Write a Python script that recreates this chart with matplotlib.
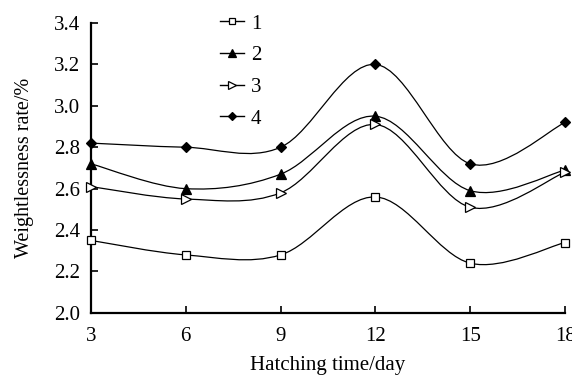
import numpy as np
import matplotlib
matplotlib.use('Agg')
import matplotlib.pyplot as plt
from matplotlib.path import Path
from matplotlib.patches import PathPatch

plt.rcParams['font.family'] = ['Liberation Serif', 'DejaVu Serif']

# hatching time (day)
days = [3, 6, 9, 12, 15, 18]
# weightlessness rate per group
s1 = [2.35, 2.28, 2.28, 2.56, 2.24, 2.34]
s2 = [2.72, 2.60, 2.67, 2.95, 2.59, 2.69]
s3 = [2.61, 2.55, 2.58, 2.91, 2.51, 2.68]
s4 = [2.82, 2.80, 2.80, 3.20, 2.72, 2.92]
labels = ['1', '2', '3', '4']


def smooth_path(x, y):
    # bezier segments through the points, like the spreadsheet "smoothed line"
    p = np.column_stack([x, y]).astype(float)
    n = len(p)
    verts = [p[0]]
    codes = [Path.MOVETO]
    for i in range(n - 1):
        p0 = p[i - 1] if i > 0 else p[i]
        p3 = p[i + 2] if i + 2 < n else p[i + 1]
        c1 = p[i] + (p[i + 1] - p0) / 6.0
        c2 = p[i + 1] - (p3 - p[i]) / 6.0
        verts += [c1, c2, p[i + 1]]
        codes += [Path.CURVE4] * 3
    return Path(verts, codes)


fig = plt.figure(figsize=(5.72, 3.77), dpi=100)
ax = fig.add_axes([0.159, 0.170, 0.829, 0.769])

styles = [
    dict(marker='s', mfc='white', ms=6),
    dict(marker='^', mfc='black', ms=7),
    dict(marker='>', mfc='white', ms=7),
    dict(marker='D', mfc='black', ms=5.5),
]

for ys, lab, st in zip([s1, s2, s3, s4], labels, styles):
    ax.add_patch(PathPatch(smooth_path(days, ys), fill=False, ec='black', lw=0.9, clip_on=False))
    ax.plot(days, ys, ls='none', color='black', mec='black', mew=0.9,
            clip_on=False, zorder=5, **st)
    # legend proxy
    ax.plot([], [], color='black', lw=1.0, mec='black', mew=0.9, label=lab, **st)

ax.set_xlim(3, 18)
ax.set_ylim(2.0, 3.4)
ax.set_xticks(days)
ax.set_yticks(np.arange(2.0, 3.41, 0.2))
ax.set_yticklabels(['%.1f' % v for v in np.arange(2.0, 3.41, 0.2)])

for s in ['top', 'right']:
    ax.spines[s].set_visible(False)
for s in ['left', 'bottom']:
    ax.spines[s].set_linewidth(1.6)

ax.tick_params(direction='in', length=5, width=1.2, labelsize=15)
ax.tick_params(axis='x', pad=10)
ax.tick_params(axis='y', pad=8)

ax.set_xlabel('Hatching time/day', fontsize=15, labelpad=7)
ax.set_ylabel('Weightlessness rate/%', fontsize=14.5, labelpad=14)

ax.legend(loc='upper left', bbox_to_anchor=(0.232, 1.095), frameon=False,
          fontsize=15, handlelength=1.15, labelspacing=0.58, handletextpad=0.35,
          markerscale=0.75)

fig.savefig('out.png', dpi=100)
